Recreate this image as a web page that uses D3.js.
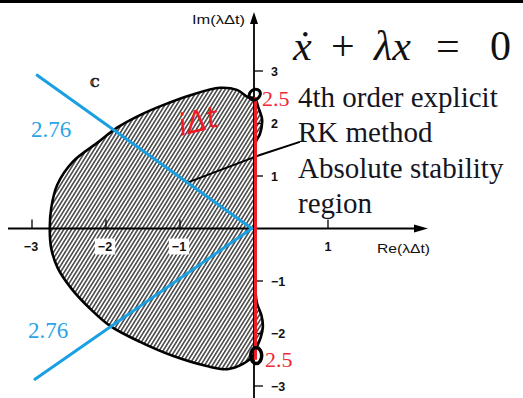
<!DOCTYPE html>
<html>
<head>
<meta charset="utf-8">
<script src="https://cdn.jsdelivr.net/npm/d3@7/dist/d3.min.js"></script>
<style>
  html, body { margin: 0; padding: 0; background: #fff; }
  svg { display: block; }
</style>
</head>
<body>
<svg id="chart" width="523" height="398"></svg>
<script>
// RK4 absolute stability region boundary, traced counter-clockwise (Re, Im of λΔt)
const boundaryRe = [-2.76, -2.74, -2.66, -2.45, -2.10, -1.85, -1.54, -1.23, -0.86, -0.46, -0.23, -0.08, 0.01,
                    0.06, 0.11, 0.08, 0.02, 0.01, 0.01, 0.01, 0.04, 0.10, 0.12, 0.09, 0.04,
                    -0.01, -0.15, -0.36, -0.64, -1.09, -1.54, -1.95, -2.22, -2.47, -2.65, -2.74];
const boundaryIm = [0.00, 0.39, 0.83, 1.27, 1.65, 1.92, 2.16, 2.35, 2.54, 2.68, 2.64, 2.50, 2.48,
                    2.30, 2.07, 1.80, 1.63, 0.60, -0.40, -1.00, -1.42, -1.65, -1.87, -2.08, -2.25,
                    -2.42, -2.58, -2.68, -2.62, -2.43, -2.16, -1.85, -1.52, -1.14, -0.76, -0.38];

// axis ticks
const xTicks = [-3, -2, -1, 1];
const yTicks = [3, 2, 1, -1, -2, -3];

// annotation values
const realLimit = 2.76;       // left intercept on the real axis
const imagLimit = 2.5;        // intercept on the imaginary axis
const blueUpper = [[-2.93, 2.92], [-0.03, 0.0]];
const blueLower = [[-2.96, -2.87], [-0.03, 0.0]];
const pointerLine = [[-0.91, 0.87], [0.08, 1.4], [0.62, 1.65]];
const noteLines = ["4th order explicit", "RK method", "Absolute stability", "region"];

const svg = d3.select("#chart");
const x = d3.scaleLinear().domain([-3, 1]).range([32, 328]);
const y = d3.scaleLinear().domain([-3, 3]).range([386, 71]);

const serif = "Liberation Serif, Times New Roman, serif";
const sans = "Liberation Sans, Arial, sans-serif";

// top frame strip
svg.append("rect").attr("x", 0).attr("y", 0).attr("width", 523).attr("height", 3).attr("fill", "#000");

// hatching pattern
const defs = svg.append("defs");
const pat = defs.append("pattern")
  .attr("id", "hatch").attr("patternUnits", "userSpaceOnUse")
  .attr("width", 3.3).attr("height", 10)
  .attr("patternTransform", "rotate(32)");
pat.append("rect").attr("width", 3.3).attr("height", 10).attr("fill", "#fff");
pat.append("line").attr("x1", 0.8).attr("y1", 0).attr("x2", 0.8).attr("y2", 10)
  .attr("stroke", "#2a2a2a").attr("stroke-width", 1.35);

// stability region
const pts = boundaryRe.map((r, i) => [r, boundaryIm[i]]);
const region = d3.line().x(d => x(d[0])).y(d => y(d[1])).curve(d3.curveCatmullRomClosed.alpha(0.5));
svg.append("path").attr("d", region(pts))
  .attr("fill", "url(#hatch)").attr("stroke", "#000").attr("stroke-width", 2.6);

// axes
const axisG = svg.append("g").attr("stroke", "#000").attr("stroke-width", 1.8);
axisG.append("line").attr("x1", 8).attr("x2", 420).attr("y1", y(0)).attr("y2", y(0));
axisG.append("line").attr("x1", x(0)).attr("x2", x(0)).attr("y1", 20).attr("y2", 398);
svg.append("path")
  .attr("d", `M${x(0)},12 L${x(0) - 4},24 L${x(0) + 4},24 Z`).attr("fill", "#000");
svg.append("path")
  .attr("d", `M428,${y(0)} L414,${y(0) - 4} L414,${y(0) + 4} Z`).attr("fill", "#000");

// x ticks (above the axis) and labels
xTicks.forEach(t => {
  svg.append("line").attr("x1", x(t)).attr("x2", x(t)).attr("y1", y(0) - 9).attr("y2", y(0))
    .attr("stroke", "#000").attr("stroke-width", 1.3);
  const lbl = svg.append("text").attr("x", x(t) + (t < 0 ? -1 : 0)).attr("y", y(0) + 22)
    .attr("text-anchor", "middle").attr("font-family", sans)
    .attr("font-size", 12.5).attr("font-weight", "bold").attr("fill", "#111")
    .text(t < 0 ? "\u2212" + Math.abs(t) : String(t));
  if (t === -2 || t === -1) {
    const bb = lbl.node().getBBox();
    svg.insert("rect", "text").attr("x", bb.x - 3).attr("y", bb.y - 1)
      .attr("width", bb.width + 6).attr("height", bb.height + 2).attr("fill", "#fff");
  }
});

// y ticks (right of the axis) and labels
yTicks.forEach(t => {
  svg.append("line").attr("x1", x(0)).attr("x2", x(0) + 9).attr("y1", y(t)).attr("y2", y(t))
    .attr("stroke", "#000").attr("stroke-width", 1.3);
  svg.append("text").attr("x", x(0) + 17).attr("y", y(t) + 4.5)
    .attr("font-family", sans)
    .attr("font-size", 12.5).attr("font-weight", "bold").attr("fill", "#111")
    .text(t < 0 ? "\u2212" + Math.abs(t) : String(t));
});

// axis titles
svg.append("text").attr("x", 192).attr("y", 24)
  .attr("font-family", sans).attr("font-size", 13).attr("fill", "#111")
  .attr("textLength", 53).attr("lengthAdjust", "spacingAndGlyphs")
  .text("Im(\u03bb\u0394t)");
svg.append("text").attr("x", 377).attr("y", 253)
  .attr("font-family", sans).attr("font-size", 13).attr("fill", "#111")
  .attr("textLength", 53).attr("lengthAdjust", "spacingAndGlyphs")
  .text("Re(\u03bb\u0394t)");

// complex plane symbol
svg.append("text").attr("x", 95).attr("y", 87).attr("text-anchor", "middle")
  .attr("font-family", "DejaVu Serif, serif").attr("font-size", 12).attr("font-weight", "bold")
  .attr("fill", "#222").text("\u2102");

// pointer from the note into the region
svg.append("path")
  .attr("d", d3.line().x(d => x(d[0])).y(d => y(d[1])).curve(d3.curveLinear)(pointerLine))
  .attr("fill", "none").attr("stroke", "#000").attr("stroke-width", 2);

// blue guide lines through the real-axis intercept
const lineGen = d3.line().x(d => x(d[0])).y(d => y(d[1]));
[blueUpper, blueLower].forEach(seg => {
  svg.append("path").attr("d", lineGen(seg)).attr("fill", "none")
    .attr("stroke", "#1aa0e2").attr("stroke-width", 3).attr("stroke-linecap", "round");
});
svg.append("text").attr("x", 31).attr("y", 137).attr("font-family", serif)
  .attr("font-size", 23).attr("fill", "#2aa5e6").text(realLimit.toFixed(2));
svg.append("text").attr("x", 28).attr("y", 338).attr("font-family", serif)
  .attr("font-size", 23).attr("fill", "#2aa5e6").text(realLimit.toFixed(2));

// red segment along the imaginary axis
svg.append("line").attr("x1", x(0.02)).attr("x2", x(0.02)).attr("y1", y(imagLimit)).attr("y2", y(-imagLimit))
  .attr("stroke", "#ee1c25").attr("stroke-width", 3);
svg.append("text").attr("x", 262).attr("y", 106).attr("font-family", serif)
  .attr("font-size", 22).attr("fill", "#ee2a35").text(String(imagLimit));
svg.append("text").attr("x", 265).attr("y", 367).attr("font-family", serif)
  .attr("font-size", 22).attr("fill", "#ee2a35").text(String(imagLimit));

// hand-drawn circles at the intercepts
svg.append("ellipse").attr("cx", x(0.01)).attr("cy", y(2.55)).attr("rx", 6).attr("ry", 5)
  .attr("transform", `rotate(-40 ${x(0.01)} ${y(2.55)})`)
  .attr("fill", "none").attr("stroke", "#000").attr("stroke-width", 3);
svg.append("ellipse").attr("cx", x(0.03)).attr("cy", y(-2.42)).attr("rx", 5.5).attr("ry", 8)
  .attr("fill", "none").attr("stroke", "#000").attr("stroke-width", 3.5);

// handwritten note
svg.append("text").attr("x", 177).attr("y", 132)
  .attr("transform", "rotate(-14 195 118)")
  .attr("font-family", "DejaVu Sans, sans-serif").attr("font-size", 30).attr("font-style", "italic")
  .attr("font-weight", "normal").attr("fill", "#ee1c25")
  .attr("textLength", 40).attr("lengthAdjust", "spacingAndGlyphs")
  .text("i\u0394t");

// equation, each symbol placed on its own
const eq = svg.append("text").attr("y", 60)
  .attr("font-family", serif).attr("font-size", 42).attr("fill", "#111");
eq.append("tspan").attr("x", 293).attr("font-style", "italic").text("x\u0307");
eq.append("tspan").attr("x", 331).text("+");
eq.append("tspan").attr("x", 374).attr("font-style", "italic").text("\u03bbx");
eq.append("tspan").attr("x", 436).text("=");
eq.append("tspan").attr("x", 490).text("0");

// note text
svg.append("g").selectAll("text").data(noteLines).join("text")
  .attr("x", 298).attr("y", (d, i) => 107 + i * 35.3)
  .attr("font-family", serif).attr("font-size", 29).attr("fill", "#15151f")
  .text(d => d);
</script>
</body>
</html>
